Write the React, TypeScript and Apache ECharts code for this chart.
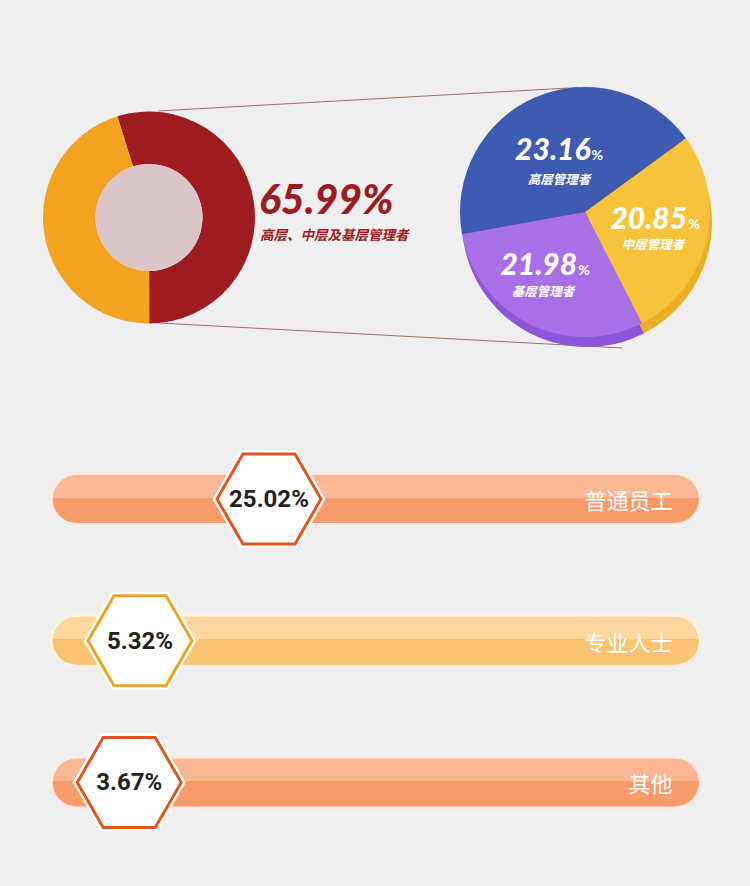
import React, { useEffect, useRef } from "react";
import * as echarts from "echarts";

// ---- data ----
const donutNames = ["高层、中层及基层管理者", "其他"];
const donutShares = [54.8, 45.2];
const donutLabel = "65.99%";

const pieNames = ["高层管理者", "中层管理者", "基层管理者"];
const pieLabels = ["23.16", "20.85", "21.98"];
const pieShares = [42.8, 27.5, 29.7];

const barCategories = ["普通员工", "专业人士", "其他"];
const barValues = [25.02, 5.32, 3.67];

// ---- styles ----
const donutColors = ["#9e1b21", "#f4a321"];
const pieColors = ["#3e5bb1", "#f7c33b", "#a86fe8"];
const pieSideColors = ["#32489a", "#eaae25", "#8b57d8"];
const barPalettes = [
  { border: "#fdebe1", top: "#fbb794", bottom: "#f99a69", hex: "#e2541b" },
  { border: "#fdf1de", top: "#fcd69d", bottom: "#f8c472", hex: "#f0a21c" },
  { border: "#fdebe1", top: "#fbb794", bottom: "#f99a69", hex: "#e2541b" },
];

const labelPos = [
  { x: 559, y: 148, sx: 559, sy: 178 },
  { x: 655, y: 217, sx: 653, sy: 243 },
  { x: 545, y: 263, sx: 543, sy: 290 },
];

export default function App() {
  const ref = useRef<HTMLDivElement>(null);
  useEffect(() => {
    if (!ref.current) return;
    const chart = echarts.init(ref.current, undefined, { renderer: "svg" });

    const hex = (cx: number, cy: number, r: number) => {
      const h = r * 0.866;
      return [
        [cx - r, cy],
        [cx - r / 2, cy - h],
        [cx + r / 2, cy - h],
        [cx + r, cy],
        [cx + r / 2, cy + h],
        [cx - r / 2, cy + h],
      ];
    };

    const graphics: any[] = [
      {
        type: "line",
        z: 1,
        shape: { x1: 158, y1: 111, x2: 578, y2: 87.5 },
        style: { stroke: "#a86a6a", lineWidth: 1 },
      },
      {
        type: "line",
        z: 1,
        shape: { x1: 150, y1: 322.5, x2: 622, y2: 348 },
        style: { stroke: "#a86a6a", lineWidth: 1 },
      },
      {
        type: "text",
        z: 100,
        x: 259,
        y: 198.5,
        style: {
          text: donutLabel,
          fill: donutColors[0],
          fontSize: 41,
          fontWeight: 900,
          fontStyle: "italic",
          fontFamily: "Lato",
          align: "left",
          verticalAlign: "middle",
          textAlign: "left",
          textVerticalAlign: "middle",
        },
      },
      {
        type: "text",
        z: 100,
        x: 260,
        y: 233.5,
        style: {
          text: donutNames[0],
          fill: donutColors[0],
          fontSize: 13.5,
          fontWeight: "bold",
          fontStyle: "italic",
          fontFamily: "Noto Sans CJK SC",
          align: "left",
          verticalAlign: "middle",
          textAlign: "left",
          textVerticalAlign: "middle",
        },
      },
    ];

    pieLabels.forEach((lab, i) => {
      const p = labelPos[i];
      graphics.push({
        type: "text",
        z: 100,
        x: p.x,
        y: p.y,
        style: {
          text: `{n|${lab}}{p|%}`,
          rich: {
            n: {
              fontSize: 30,
              fontWeight: 900,
              fontStyle: "italic",
              fontFamily: "Lato",
              fill: "#ffffff",
              color: "#ffffff",
            },
            p: {
              fontSize: 14,
              fontWeight: "bold",
              fontFamily: "Lato",
              fill: "#ffffff",
              color: "#ffffff",
              verticalAlign: "bottom",
              padding: [0, 0, 2, 1],
            },
          },
          fill: "#ffffff",
          align: "center",
          verticalAlign: "middle",
          textAlign: "center",
          textVerticalAlign: "middle",
        },
      });
      graphics.push({
        type: "text",
        z: 100,
        x: p.sx,
        y: p.sy,
        style: {
          text: pieNames[i],
          fill: "#ffffff",
          fontSize: 12.5,
          fontWeight: "bold",
          fontStyle: "italic",
          fontFamily: "Noto Sans CJK SC",
          align: "center",
          verticalAlign: "middle",
          textAlign: "center",
          textVerticalAlign: "middle",
        },
      });
    });

    const option: any = {
      animation: false,
      backgroundColor: "#efefef",
      grid: { left: 105.2, right: 55.6, top: 428.1, height: 425.2 },
      xAxis: { type: "value", min: 0, max: 90, show: false },
      yAxis: { type: "category", data: barCategories, inverse: true, show: false },
      graphic: { elements: graphics },
      series: [
        {
          type: "pie",
          silent: true,
          center: [149, 217.5],
          radius: [53.5, 106],
          startAngle: 107.4,
          clockwise: true,
          label: { show: false },
          labelLine: { show: false },
          emphasis: { disabled: true },
          data: donutShares.map((v, i) => ({
            name: donutNames[i],
            value: v,
            itemStyle: { color: donutColors[i] },
          })),
        },
        {
          type: "pie",
          silent: true,
          center: [149, 217.5],
          radius: [0, 53.5],
          label: { show: false },
          labelLine: { show: false },
          emphasis: { disabled: true },
          data: [{ value: 1, itemStyle: { color: "#dcc5c7" } }],
        },
        {
          type: "pie",
          silent: true,
          center: [587, 222],
          radius: 125,
          startAngle: 190.2,
          clockwise: true,
          label: { show: false },
          labelLine: { show: false },
          emphasis: { disabled: true },
          data: pieShares.map((v, i) => ({
            name: pieNames[i],
            value: v,
            itemStyle: { color: pieSideColors[i] },
          })),
        },
        {
          type: "pie",
          silent: true,
          center: [585, 212],
          radius: 125,
          startAngle: 190.2,
          clockwise: true,
          label: { show: false },
          labelLine: { show: false },
          emphasis: { disabled: true },
          data: pieShares.map((v, i) => ({
            name: pieNames[i],
            value: v,
            itemStyle: { color: pieColors[i] },
          })),
        },
        {
          type: "custom",
          silent: true,
          data: barValues.map((v, i) => [v, i]),
          encode: { x: 0, y: 1 },
          renderItem: (params: any, api: any) => {
            const idx = params.dataIndex;
            const v = api.value(0);
            const cat = api.value(1);
            const pt = api.coord([v, cat]);
            const cx = pt[0];
            const cy = pt[1];
            const cs = params.coordSys;
            const left = cs.x - 55;
            const right = cs.x + cs.width + 7;
            const h = 53;
            const pal = barPalettes[idx];
            return {
              type: "group",
              children: [
                {
                  type: "rect",
                  shape: { x: left, y: cy - h / 2, width: right - left, height: h, r: h / 2 },
                  style: { fill: pal.border },
                },
                {
                  type: "rect",
                  shape: {
                    x: left + 2.5,
                    y: cy - h / 2 + 2.5,
                    width: right - left - 5,
                    height: h - 5,
                    r: (h - 5) / 2,
                  },
                  style: {
                    fill: new echarts.graphic.LinearGradient(0, 0, 0, 1, [
                      { offset: 0, color: pal.top },
                      { offset: 0.47, color: pal.top },
                      { offset: 0.47, color: pal.bottom },
                      { offset: 1, color: pal.bottom },
                    ]),
                  },
                },
                {
                  type: "text",
                  style: {
                    text: barCategories[idx],
                    x: right - 29,
                    y: cy,
                    align: "right",
                    verticalAlign: "middle",
                    fill: "#ffffff",
                    fontSize: 22,
                    fontFamily: "Noto Sans CJK SC",
                  },
                },
                {
                  type: "polygon",
                  shape: { points: hex(cx, cy, 56.5) },
                  style: { fill: "#ffffff" },
                },
                {
                  type: "polygon",
                  shape: { points: hex(cx, cy, 52) },
                  style: { fill: "#ffffff", stroke: pal.hex, lineWidth: 3 },
                },
                {
                  type: "text",
                  style: {
                    text: v.toFixed(2) + "%",
                    x: cx,
                    y: cy,
                    align: "center",
                    verticalAlign: "middle",
                    fill: "#222222",
                    fontSize: 24,
                    fontWeight: "bold",
                    fontFamily: "Roboto",
                  },
                },
              ],
            };
          },
        },
      ],
    };
    chart.setOption(option);
    return () => chart.dispose();
  }, []);

  return (
    <div
      ref={ref}
      style={{ position: "fixed", left: 0, top: 0, width: 750, height: 886, background: "#efefef" }}
    />
  );
}
